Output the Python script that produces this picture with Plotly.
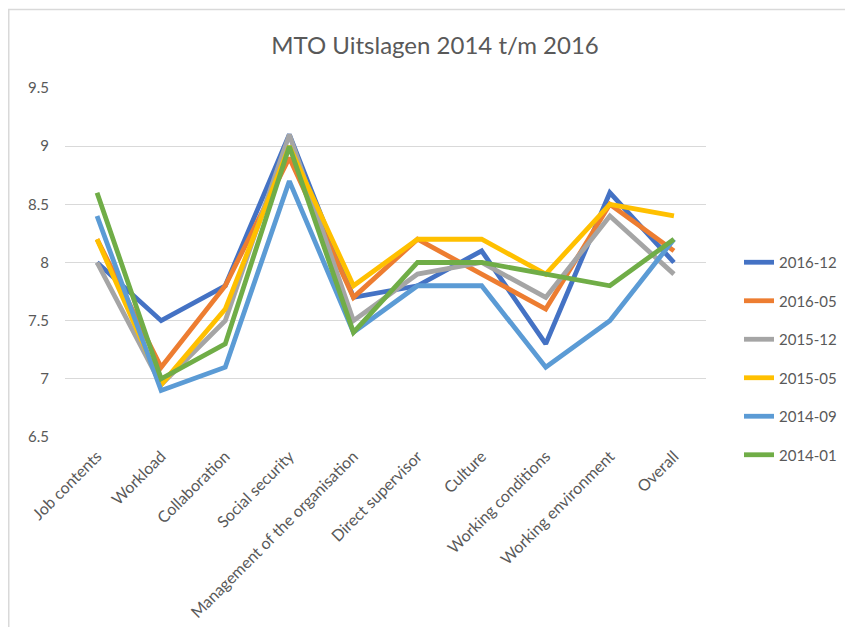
import plotly.graph_objects as go

categories = ["Job contents", "Workload", "Collaboration", "Social security",
              "Management of the organisation", "Direct supervisor", "Culture",
              "Working conditions", "Working environment", "Overall"]

s_2016_12 = [8.0, 7.5, 7.8, 9.1, 7.7, 7.8, 8.1, 7.3, 8.6, 8.0]
s_2016_05 = [8.2, 7.1, 7.8, 8.9, 7.7, 8.2, 7.9, 7.6, 8.5, 8.1]
s_2015_12 = [8.0, 6.95, 7.5, 9.1, 7.5, 7.9, 8.0, 7.7, 8.4, 7.9]
s_2015_05 = [8.2, 6.95, 7.6, 9.0, 7.8, 8.2, 8.2, 7.9, 8.5, 8.4]
s_2014_09 = [8.4, 6.9, 7.1, 8.7, 7.4, 7.8, 7.8, 7.1, 7.5, 8.2]
s_2014_01 = [8.6, 7.0, 7.3, 9.0, 7.4, 8.0, 8.0, 7.9, 7.8, 8.2]

series_names = ["2016-12", "2016-05", "2015-12", "2015-05", "2014-09", "2014-01"]
series_values = [s_2016_12, s_2016_05, s_2015_12, s_2015_05, s_2014_09, s_2014_01]
colors = ["#4472C4", "#ED7D31", "#A5A5A5", "#FFC000", "#5B9BD5", "#70AD47"]

y_ticks = [6.5, 7, 7.5, 8, 8.5, 9, 9.5]
y_ticktext = ["6.5", "7", "7.5", "8", "8.5", "9", "9.5"]

fig = go.Figure()
for name, vals, col in zip(series_names, series_values, colors):
    fig.add_trace(go.Scatter(
        x=categories, y=vals, name=name, mode="lines",
        line=dict(color=col, width=4.8),
        legendgroup=name,
    ))

# page body has an 8px margin; figure sized to fit the window
W, H = 837, 619
L, T = 57, 80
R = W - 698
B = H - 429
pw = W - L - R
ph = H - T - B

fig.update_layout(
    width=W, height=H,
    margin=dict(l=L, r=R, t=T, b=B, autoexpand=False),
    paper_bgcolor="white", plot_bgcolor="white",
    font=dict(family="Lato, Open Sans, sans-serif", color="#595959", size=15),
    title=dict(text="MTO Uitslagen 2014 t/m 2016", x=427 / W, xanchor="center",
               y=1 - 38 / H, yanchor="middle",
               font=dict(size=24, color="#595959")),
    showlegend=True,
    legend=dict(x=(731 - L) / pw, xanchor="left", y=(429 - 238) / ph, yanchor="top",
                tracegroupgap=16, font=dict(size=15, color="#595959"),
                itemwidth=30, bgcolor="rgba(0,0,0,0)"),
    xaxis=dict(type="category", range=[-0.5, 9.5], tickangle=-45,
               showgrid=False, showline=False, ticks="", zeroline=False,
               ticklabelstandoff=6,
               tickfont=dict(size=16, color="#595959")),
    yaxis=dict(range=[6.5, 9.5], tickvals=y_ticks, ticktext=y_ticktext,
               showgrid=True, gridcolor="#D9D9D9", gridwidth=1,
               zeroline=False, showline=False, ticks="", ticklabelstandoff=15,
               tickfont=dict(size=15, color="#595959")),
    shapes=[dict(type="rect", xref="paper", yref="paper",
                 x0=(0.75 - L) / pw, x1=(W + 20 - L) / pw,
                 y0=(429 - (H + 20)) / ph, y1=(429 - 1.5) / ph,
                 line=dict(color="#D9D9D9", width=1.5), layer="below")],
)

fig.write_html("out.html")
